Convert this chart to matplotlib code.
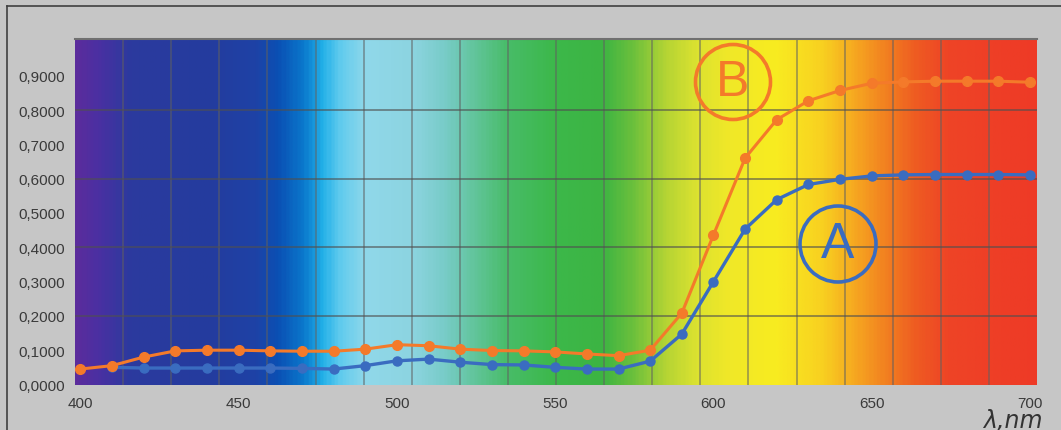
import numpy as np
import matplotlib
matplotlib.use("Agg")
import matplotlib.pyplot as plt
from matplotlib.colors import LinearSegmentedColormap
from matplotlib.patches import Ellipse

# ---------------- data ----------------
wl_b = [400, 410, 420, 430, 440, 450, 460, 470, 480, 490, 500, 510, 520, 530, 540,
        550, 560, 570, 580, 590, 600, 610, 620, 630, 640, 650, 660, 670, 680, 690, 700]
val_b = [0.045, 0.055, 0.080, 0.098, 0.100, 0.100, 0.098, 0.097, 0.097, 0.103, 0.116,
         0.113, 0.103, 0.099, 0.098, 0.095, 0.089, 0.084, 0.100, 0.208, 0.436, 0.660,
         0.772, 0.827, 0.857, 0.878, 0.882, 0.884, 0.884, 0.884, 0.881]

wl_a = [410, 420, 430, 440, 450, 460, 470, 480, 490, 500, 510, 520, 530, 540,
        550, 560, 570, 580, 590, 600, 610, 620, 630, 640, 650, 660, 670, 680, 690, 700]
val_a = [0.050, 0.048, 0.048, 0.048, 0.048, 0.048, 0.047, 0.045, 0.055, 0.069, 0.074,
         0.065, 0.058, 0.057, 0.050, 0.045, 0.045, 0.068, 0.147, 0.300, 0.453, 0.539,
         0.583, 0.598, 0.608, 0.611, 0.612, 0.612, 0.612, 0.611]

x_ticks = [400, 450, 500, 550, 600, 650, 700]
y_ticks = [0.0, 0.1, 0.2, 0.3, 0.4, 0.5, 0.6, 0.7, 0.8, 0.9]
y_tick_labels = ["0,0000", "0,1000", "0,2000", "0,3000", "0,4000", "0,5000",
                 "0,6000", "0,7000", "0,8000", "0,9000"]

# spectrum background colour stops (wavelength, colour)
spec_wl = [398, 405, 415, 440, 455, 462, 470, 476, 482, 490, 505, 515, 525, 535,
           550, 565, 575, 585, 595, 605, 620, 635, 645, 655, 665, 675, 703]
spec_col = ["#5B2C9C", "#4A30A2", "#2C3A9E", "#243C9E", "#1E42A6", "#0A50B4",
            "#0A78CC", "#22B0E8", "#62CCEE", "#90D8EA", "#8CD4E0", "#78CCC8",
            "#60C498", "#48BC68", "#3CB84A", "#3CB443", "#6CC03C", "#B4D434",
            "#DCE230", "#F0E828", "#F8EC20", "#F8D020", "#F6A820", "#F28020",
            "#EE5A22", "#EE4426", "#EE3A26"]

XMIN, XMAX = 398.3, 702.2
YMIN, YMAX = 0.0, 1.007

W, H = 1061, 431
fig = plt.figure(figsize=(W / 100, H / 100), dpi=100)
fig.patch.set_facecolor("#C6C6C6")

ax = fig.add_axes([75 / W, (H - 385.5) / H, 962 / W, 345.5 / H])
ax.set_xlim(XMIN, XMAX)
ax.set_ylim(YMIN, YMAX)

# spectrum background
pos = [(w - spec_wl[0]) / (spec_wl[-1] - spec_wl[0]) for w in spec_wl]
cmap = LinearSegmentedColormap.from_list("spec", list(zip(pos, spec_col)))
grad = np.linspace(0, 1, 600).reshape(1, -1)
ax.imshow(grad, cmap=cmap, aspect="auto", extent=[spec_wl[0], spec_wl[-1], YMIN, YMAX],
          zorder=0, interpolation="bilinear")

# grid
for k in range(1, 20):
    ax.axvline(XMIN + (XMAX - XMIN) * k / 20, color="#606060", alpha=0.6, lw=1.2, zorder=1)
for yv in [0.2, 0.4, 0.6, 0.8]:
    ax.axhline(yv, color="#505050", alpha=0.6, lw=1.4, zorder=1)

orange = "#F47A2A"
blue = "#3A6CC0"
ax.plot(wl_a, val_a, color=blue, lw=2.4, marker="o", ms=6.5, zorder=3)
ax.plot(wl_b, val_b, color=orange, lw=2.2, marker="o", ms=7, zorder=4)

# circled labels
px_per_nm = 962 / (XMAX - XMIN)
px_per_y = 345.5 / (YMAX - YMIN)
def circ_label(xp, yp, r, txt, col):
    xd = XMIN + (xp - 75) / px_per_nm
    yd = (385.5 - yp) / px_per_y
    ax.add_patch(Ellipse((xd, yd), 2 * r / px_per_nm, 2 * r / px_per_y, fill=False,
                         edgecolor=col, lw=2.6, zorder=5))
    ax.text(xd, yd, txt, color=col, fontsize=36, ha="center", va="center",
            family="Liberation Sans", zorder=6)

circ_label(733, 83, 37.5, "B", orange)
circ_label(838, 245, 38, "A", blue)

for s in ["left", "right", "bottom"]:
    ax.spines[s].set_visible(False)
ax.spines["top"].set_color("#707070")
ax.spines["top"].set_linewidth(1.5)

ax.set_xticks(x_ticks)
ax.set_xticklabels([str(v) for v in x_ticks], fontsize=11, color="#3A3A3A",
                   family="Liberation Sans")
ax.set_yticks(y_ticks)
ax.set_yticklabels(y_tick_labels, fontsize=11, color="#3A3A3A", family="Liberation Sans")
ax.tick_params(axis="both", length=0)
ax.tick_params(axis="x", pad=8)
ax.tick_params(axis="y", pad=7)

fig.text(1043 / W, (H - 428) / H, "λ,nm", fontsize=17, style="italic", color="#333333",
         ha="right", va="baseline", family="DejaVu Sans")

# outer frame lines (top and left)
fig.add_artist(plt.Line2D([7 / W, 1], [1 - 7 / H, 1 - 7 / H], color="#404040", lw=1.2))
fig.add_artist(plt.Line2D([7 / W, 7 / W], [0, 1 - 7 / H], color="#404040", lw=1.2))

fig.savefig("out.png", dpi=100, facecolor=fig.get_facecolor())
